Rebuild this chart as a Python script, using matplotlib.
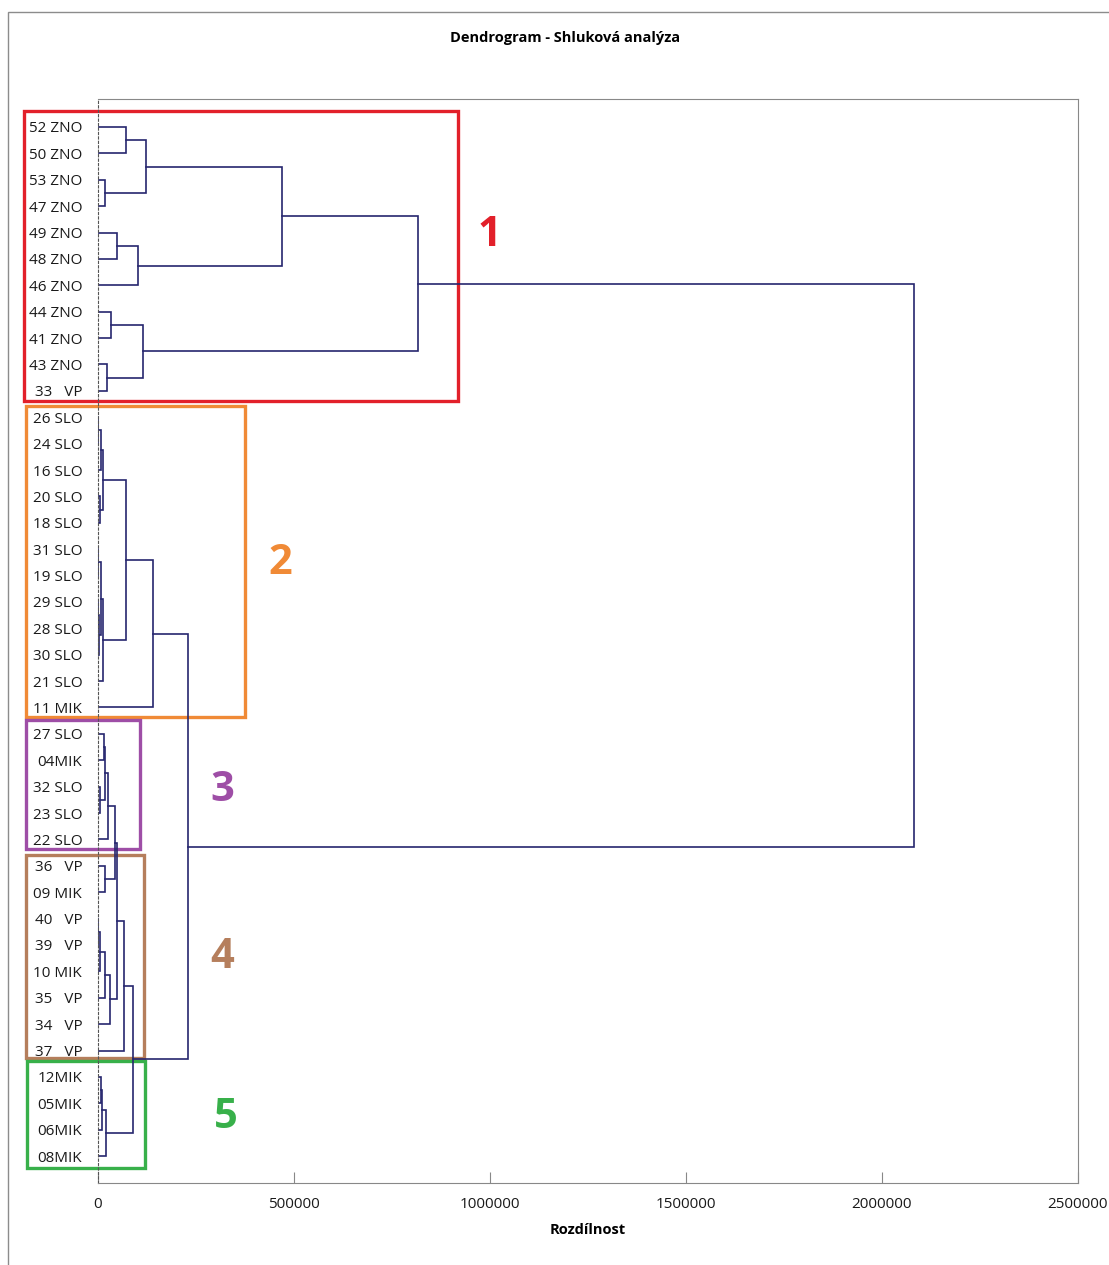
import matplotlib.pyplot as plt
import matplotlib.transforms as mtransforms
from matplotlib.patches import Rectangle

# popisky listu (shora dolu)
leaves = ["52 ZNO", "50 ZNO", "53 ZNO", "47 ZNO", "49 ZNO", "48 ZNO", "46 ZNO",
          "44 ZNO", "41 ZNO", "43 ZNO", "33   VP",
          "26 SLO", "24 SLO", "16 SLO", "20 SLO", "18 SLO", "31 SLO", "19 SLO",
          "29 SLO", "28 SLO", "30 SLO", "21 SLO", "11 MIK",
          "27 SLO", "04MIK", "32 SLO", "23 SLO", "22 SLO",
          "36   VP", "09 MIK", "40   VP", "39   VP", "10 MIK", "35   VP", "34   VP", "37   VP",
          "12MIK", "05MIK", "06MIK", "08MIK"]

# spojeni: (uzel, levy, pravy, rozdilnost)
merges_c1 = [("a1", "52 ZNO", "50 ZNO", 72700),
             ("a2", "53 ZNO", "47 ZNO", 18400),
             ("a3", "a1", "a2", 123000),
             ("a4", "49 ZNO", "48 ZNO", 49000),
             ("a5", "a4", "46 ZNO", 102500),
             ("a6", "a3", "a5", 470700),
             ("a7", "44 ZNO", "41 ZNO", 34400),
             ("a8", "43 ZNO", "33   VP", 25000),
             ("a9", "a7", "a8", 116800),
             ("A", "a6", "a9", 817600)]
merges_c2 = [("b1", "26 SLO", "24 SLO", 1000),
             ("b2", "b1", "16 SLO", 8000),
             ("b3", "20 SLO", "18 SLO", 7000),
             ("b4", "b2", "b3", 14800),
             ("b5", "31 SLO", "19 SLO", 1500),
             ("b6", "29 SLO", "28 SLO", 1200),
             ("b7", "b6", "30 SLO", 3500),
             ("b8", "b5", "b7", 8000),
             ("b9", "b8", "21 SLO", 15000),
             ("b10", "b4", "b9", 72000),
             ("B", "b10", "11 MIK", 142000)]
merges_c3 = [("c1", "27 SLO", "04MIK", 15300),
             ("c2", "32 SLO", "23 SLO", 7100),
             ("c3", "c1", "c2", 19900),
             ("C", "c3", "22 SLO", 26800)]
merges_c4 = [("d1", "36   VP", "09 MIK", 18400),
             ("d2", "C", "d1", 45400),
             ("d3", "40   VP", "39   VP", 1500),
             ("d4", "d3", "10 MIK", 6400),
             ("d5", "d4", "35   VP", 18400),
             ("d6", "d5", "34   VP", 32700),
             ("d7", "d2", "d6", 49700),
             ("D", "d7", "37   VP", 68400)]
merges_c5 = [("e1", "12MIK", "05MIK", 9000),
             ("e2", "e1", "06MIK", 12000),
             ("E", "e2", "08MIK", 21700)]
merges_top = [("f1", "D", "E", 89800),
              ("f2", "B", "f1", 230900),
              ("root", "A", "f2", 2083000)]

xticks = [0, 500000, 1000000, 1500000, 2000000, 2500000]

# shluky: (cislo, prvni list, posledni list)
clusters = [("1", 0, 10), ("2", 11, 22), ("3", 23, 27), ("4", 28, 35), ("5", 36, 39)]
cluster_colors = ["#E2202A", "#F08A36", "#9E4EA6", "#B57E5C", "#38B04A"]

W, H = 1109, 1265
fig = plt.figure(figsize=(W / 100, H / 100), dpi=100)
plt.rcParams['font.family'] = ['Open Sans', 'DejaVu Sans']
ax = fig.add_axes([97.5 / W, 1 - 1183 / H, (1078 - 97.5) / W, (1183 - 99) / H])

line_col = "#26266E"
pos = {name: (i, 0.0) for i, name in enumerate(leaves)}
for name, l, r, h in merges_c1 + merges_c2 + merges_c3 + merges_c4 + merges_c5 + merges_top:
    yl, xl = pos[l]
    yr, xr = pos[r]
    ax.plot([xl, h, h, xr], [yl, yl, yr, yr], color=line_col, lw=1.2, solid_joinstyle="miter")
    pos[name] = ((yl + yr) / 2, h)

ax.set_xlim(0, 2500000)
ax.set_ylim(40.02, -1.06)
ax.set_yticks(range(len(leaves)))
ax.set_yticklabels(leaves, fontsize=11, color="#1a1a1a")
ax.tick_params(axis="y", length=0, pad=11)
ax.set_xticks(xticks)
ax.set_xticklabels([str(v) for v in xticks], fontsize=11, color="#1a1a1a")
ax.tick_params(axis="x", direction="in", length=8, color="#888888", pad=10)
for s in ["top", "right", "bottom"]:
    ax.spines[s].set_color("#888888")
ax.spines["left"].set_color("#555555")
ax.spines["left"].set_linestyle((0, (2, 2)))
ax.set_xlabel("Rozdílnost", fontsize=10.5, fontweight="bold", labelpad=8)

fig.text(565 / W, 1 - 38 / H, "Dendrogram - Shluková analýza", fontsize=10.5,
         fontweight="bold", ha="center", va="center")

# ramecek grafu
fig.patches.append(Rectangle((8 / W, -0.01), 1.0, 1 - 12 / H + 0.01, transform=fig.transFigure,
                             fill=False, edgecolor="#8c8c8c", lw=1.0))

# barevne ramecky shluku
trans = mtransforms.blended_transform_factory(fig.transFigure, ax.transData)
box_x = [(24, 458), (26, 245), (26, 140), (26, 144), (27, 145)]
box_pad = [(0.6, 0.38), (0.43, 0.36), (0.53, 0.36), (0.41, 0.29), (0.6, 0.45)]
num_xy = [(489, 4.12), (280, 16.55), (222, 25.15), (222, 31.48), (226, 37.55)]
for (lab, i0, i1), col, (x0, x1), (pt, pb), (nx, ny) in zip(clusters, cluster_colors, box_x, box_pad, num_xy):
    rect = Rectangle((x0 / W, i0 - pt), (x1 - x0) / W, (i1 + pb) - (i0 - pt), transform=trans,
                     fill=False, edgecolor=col, lw=2.4, clip_on=False)
    ax.add_patch(rect)
    ax.text(nx / W, ny, lab, transform=trans, color=col, fontsize=30, fontweight="bold",
            ha="center", va="center", clip_on=False)

fig.savefig("out.png", dpi=100)
